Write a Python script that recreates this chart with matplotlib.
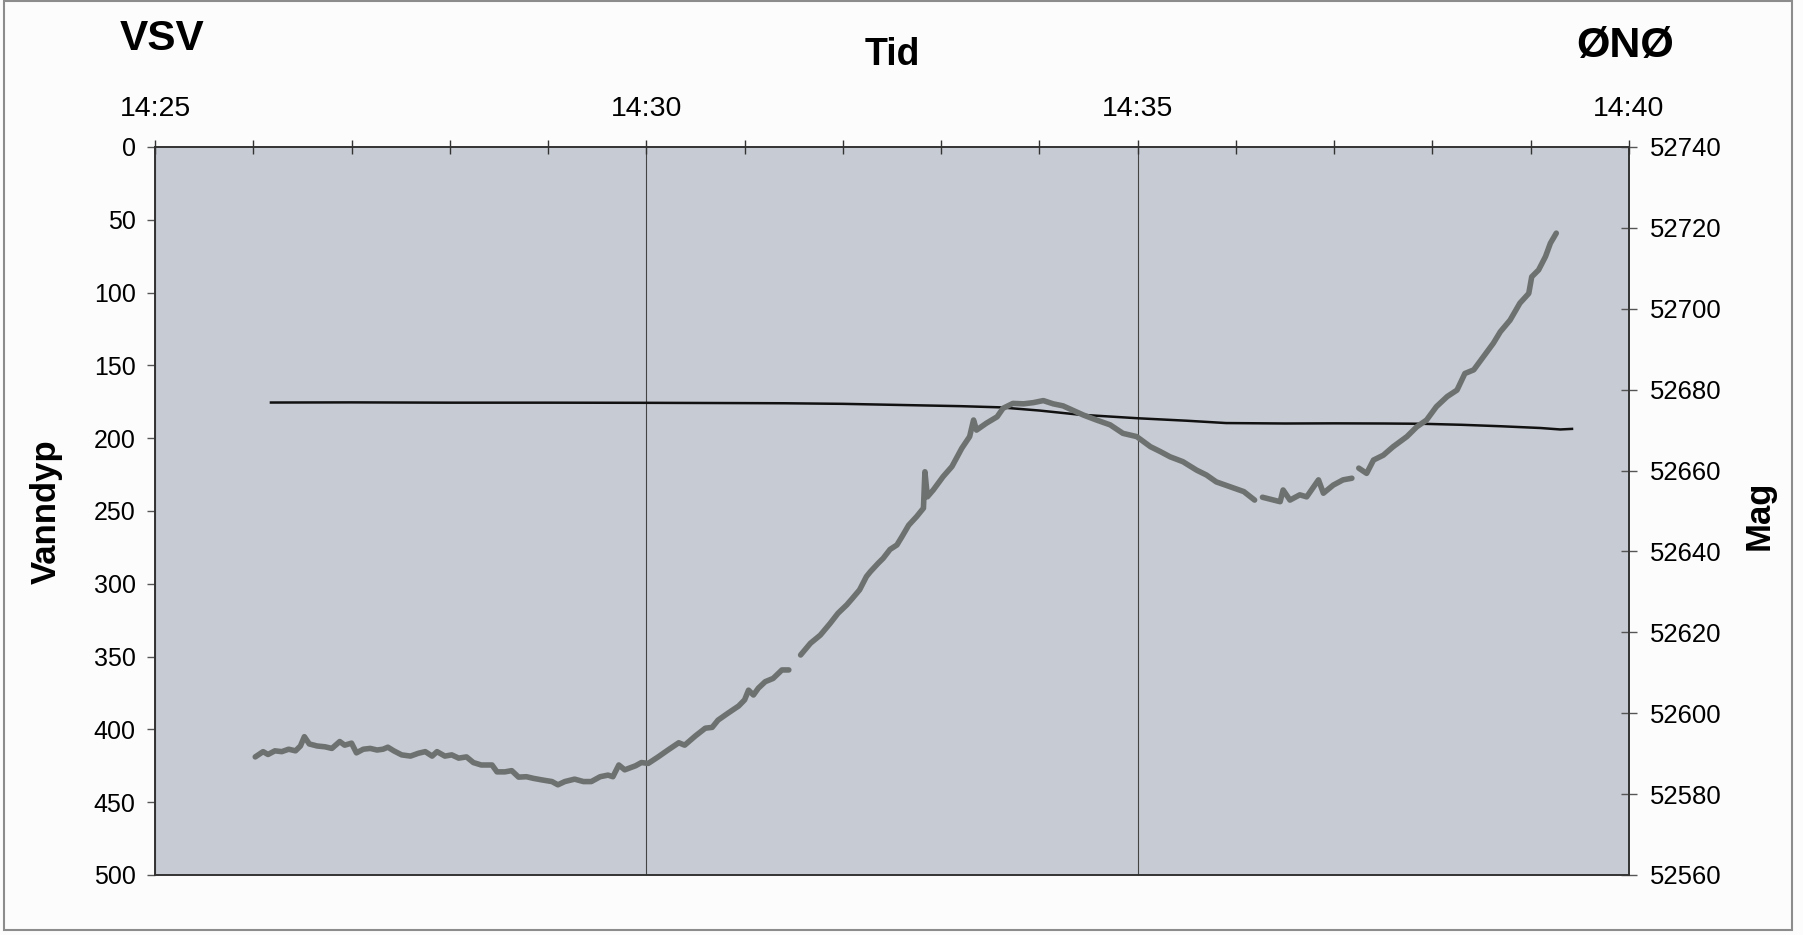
import matplotlib
matplotlib.use('Agg')
import matplotlib.pyplot as plt
from matplotlib.patches import Rectangle
from matplotlib.ticker import MultipleLocator
import numpy as np

plt.rcParams['font.family'] = ['Liberation Sans', 'DejaVu Sans']

# Tid i minutter etter 14:25
tid_ticks = [0, 5, 10, 15]
tid_labels = ['14:25', '14:30', '14:35', '14:40']

# Vanndyp (m), venstre akse
dyp_tid = [1.18, 2.0, 3.0, 4.0, 5.0, 6.0, 6.4, 7.0, 7.6, 8.2, 8.6, 9.0, 9.4,
           10.0, 10.5, 10.9, 11.5, 12.0, 12.5, 12.9, 13.3, 13.7, 14.1, 14.3, 14.42]
dyp = [175.5, 175.4, 175.6, 175.6, 175.7, 175.9, 176.0, 176.4, 177.2, 178.0, 178.8,
       181.0, 183.8, 186.3, 188.0, 189.6, 189.9, 189.8, 189.9, 190.1, 190.8, 191.8,
       193.0, 194.0, 193.6]

# Magnetometer (nT), høyre akse -- nan der logger mangler data
mag_tid = [1.02, 1.10, 1.15, 1.22, 1.29, 1.36, 1.43, 1.48, 1.52, 1.57, 1.65, 1.73,
           1.80, 1.88, 1.93, 2.00, 2.05, 2.12, 2.19, 2.26, 2.32, 2.37, 2.43, 2.51,
           2.60, 2.68, 2.75, 2.82, 2.87, 2.95, 3.02, 3.09, 3.17, 3.24, 3.32, 3.43,
           3.48, 3.56, 3.63, 3.70, 3.78, 3.85, 3.94, 4.04, 4.10, 4.17, 4.27, 4.36,
           4.44, 4.53, 4.61, 4.66, 4.72, 4.78, 4.89, 4.95, 5.02, 5.12, 5.22, 5.33,
           5.39, 5.50, 5.60, 5.67, 5.73, 5.83, 5.94, 6.00, 6.04, 6.09, 6.14, 6.21,
           6.29, 6.38, 6.45, 6.51,
           6.57, 6.67, 6.77, 6.87, 6.95, 7.04, 7.09, 7.17, 7.24, 7.28, 7.36, 7.41,
           7.48, 7.55, 7.60, 7.67, 7.75, 7.82, 7.835, 7.86, 7.92, 8.02, 8.11, 8.21,
           8.29, 8.33, 8.36, 8.46, 8.57, 8.63, 8.73, 8.84, 8.94, 9.04, 9.14, 9.24,
           9.35, 9.45, 9.58, 9.72, 9.85, 9.99, 10.13, 10.23, 10.33, 10.46, 10.60,
           10.70, 10.80, 10.94, 11.08, 11.19, 11.23,
           11.27, 11.35, 11.45, 11.48, 11.55, 11.65, 11.72, 11.84, 11.89, 11.99,
           12.09, 12.18, 12.21,
           12.25, 12.33, 12.40, 12.50, 12.60, 12.74, 12.84, 12.94, 13.04, 13.15,
           13.25, 13.33, 13.42, 13.52, 13.62, 13.69, 13.79, 13.89, 13.98, 14.01,
           14.08, 14.15, 14.20, 14.26]
mag = [52589.2, 52590.5, 52589.8, 52590.7, 52590.5, 52591.1, 52590.7, 52591.9,
       52594.2, 52592.4, 52591.9, 52591.7, 52591.3, 52593.0, 52592.1, 52592.6,
       52590.2, 52591.1, 52591.3, 52590.9, 52591.1, 52591.6, 52590.7, 52589.7,
       52589.4, 52590.1, 52590.5, 52589.4, 52590.5, 52589.4, 52589.7, 52588.9,
       52589.2, 52587.8, 52587.2, 52587.2, 52585.5, 52585.5, 52585.8, 52584.2,
       52584.3, 52583.9, 52583.5, 52583.1, 52582.3, 52583.1, 52583.7, 52583.1,
       52583.1, 52584.3, 52584.7, 52584.3, 52587.2, 52586.0, 52587.0, 52587.8,
       52587.6, 52589.2, 52590.9, 52592.7, 52592.1, 52594.4, 52596.3, 52596.5,
       52598.3, 52600.0, 52601.8, 52603.3, 52605.7, 52604.5, 52606.2, 52607.8,
       52608.6, 52610.7, 52610.7, np.nan,
       52614.4, 52617.3, 52619.3, 52622.2, 52624.7, 52626.8, 52628.2, 52630.5,
       52633.8, 52635.0, 52637.1, 52638.3, 52640.5, 52641.6, 52643.6, 52646.5,
       52648.6, 52650.7, 52659.7, 52653.5, 52655.2, 52658.5, 52661.0, 52665.5,
       52668.4, 52672.5, 52670.0, 52671.7, 52673.3, 52675.4, 52676.6, 52676.5,
       52676.8, 52677.3, 52676.5, 52676.0, 52674.8, 52673.7, 52672.5, 52671.3,
       52669.2, 52668.4, 52665.9, 52664.7, 52663.4, 52662.2, 52660.1, 52658.9,
       52657.2, 52656.0, 52654.8, 52652.7, np.nan,
       52653.4, 52652.9, 52652.3, 52655.2, 52652.7, 52654.0, 52653.5, 52657.7,
       52654.4, 52656.4, 52657.7, 52658.1, np.nan,
       52660.6, 52659.3, 52662.6, 52663.8, 52665.9, 52668.4, 52670.8, 52672.5,
       52675.8, 52678.3, 52679.9, 52684.0, 52684.9, 52688.2, 52691.5, 52694.3,
       52697.2, 52701.4, 52703.8, 52707.9, 52709.6, 52712.9, 52716.2, 52718.7]

W, H = 1803, 935
fig = plt.figure(figsize=(W / 100, H / 100), dpi=100, facecolor='#fcfcfc')

# plotteområde i piksler: x 155-1629, y 147-875
ax = fig.add_axes([155 / W, 1 - 875 / H, (1629 - 155) / W, (875 - 147) / H])
ax.set_facecolor('#c7cbd3')
ax.plot(dyp_tid, dyp, color='#111111', lw=1.8, zorder=3)
ax.set_xlim(0, 15)
ax.set_ylim(500, 0)
ax.set_yticks(np.arange(0, 501, 50))
ax.xaxis.tick_top()
ax.set_xticks(tid_ticks)
ax.set_xticklabels(tid_labels)
ax.xaxis.set_minor_locator(MultipleLocator(1))
ax.tick_params(axis='x', which='both', top=True, bottom=False, direction='inout',
               length=10, width=1, color='#333333', labelsize=20.5, pad=13)
ax.tick_params(axis='y', direction='out', length=6, width=1, color='#555555',
               labelsize=18, pad=8)
ax.grid(axis='x', which='major', color='#444444', lw=0.8)
for s in ax.spines.values():
    s.set_color('#333333')
    s.set_linewidth(1.2)

ax2 = ax.twinx()
ax2.plot(mag_tid, mag, color='#6d7170', lw=4.0, solid_capstyle='round',
         solid_joinstyle='round', zorder=4)
ax2.set_ylim(52560, 52740)
ax2.set_yticks(np.arange(52560, 52741, 20))
ax2.tick_params(axis='y', direction='inout', length=12, width=1, color='#555555',
                labelsize=18.5, pad=9)
for s in ax2.spines.values():
    s.set_color('#333333')
    s.set_linewidth(1.2)

# titler og aksetekster
fig.text(46 / W, 1 - 512 / H, 'Vanndyp', rotation=90, ha='center', va='center',
         fontsize=25, fontweight='bold')
fig.text(1759 / W, 1 - 515 / H, 'Mag', rotation=90, ha='center', va='center',
         fontsize=25, fontweight='bold')
fig.text(892 / W, 1 - 65 / H, 'Tid', ha='center', va='baseline',
         fontsize=27, fontweight='bold')
fig.text(120 / W, 1 - 50 / H, 'VSV', ha='left', va='baseline',
         fontsize=30.5, fontweight='bold')
fig.text(1576 / W, 1 - 57 / H, 'ØNØ', ha='left', va='baseline',
         fontsize=31, fontweight='bold')

# ramme rundt hele figuren
fig.patches.append(Rectangle((4 / W, 5 / H), 1788 / W, 1 - 6 / H, transform=fig.transFigure,
                             fill=False, edgecolor='#8c8c8c', lw=1.5))

fig.savefig('out.png', dpi=100, facecolor=fig.get_facecolor())
